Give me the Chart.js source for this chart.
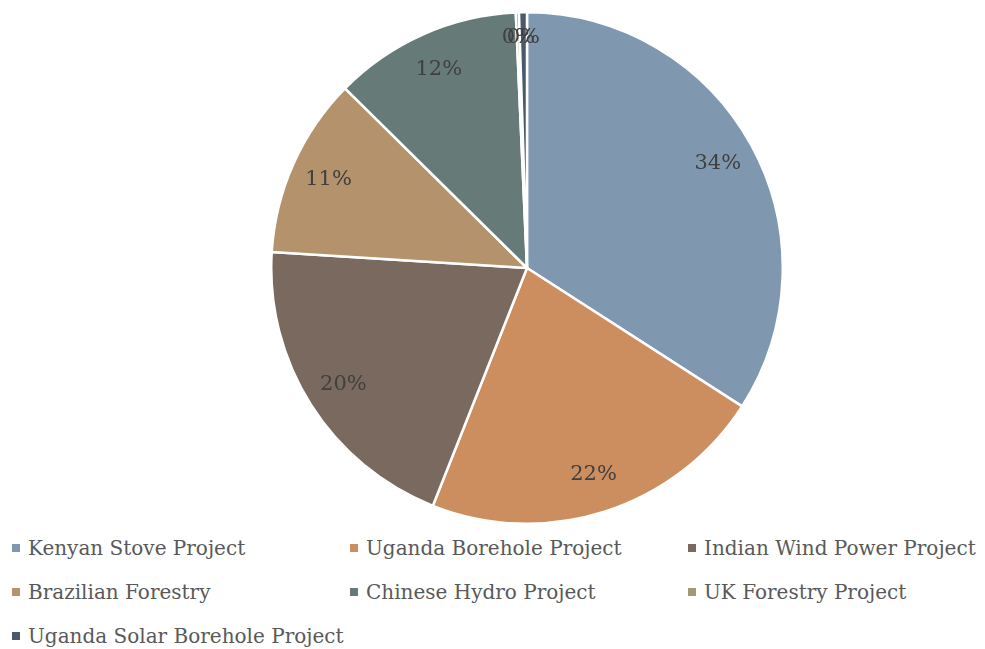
<!DOCTYPE html>
<html>
<head>
<meta charset="utf-8">
<script src="https://cdn.jsdelivr.net/npm/chart.js@4.4.0/dist/chart.umd.min.js"></script>
<style>
    body { margin: 0; background: #fff; width: 985px; height: 649px; overflow: hidden; position: relative; font-family: 'DejaVu Serif', serif; }
    #pie-box { position: absolute; left: 270px; top: 11px; width: 514px; height: 514px; }
    #legend { position: absolute; left: 12px; top: 536px; width: 980px; }
    .item { position: absolute; white-space: nowrap; font-size: 20px; color: #595959; }
    .item span.box { display: inline-block; width: 8px; height: 8px; margin-right: 8px; vertical-align: middle; position: relative; top: -2px; }
</style>
</head>
<body>
<div id="pie-box"><canvas id="chart-pie"></canvas></div>
<div id="legend"></div>
<script>
const labels = ['Kenyan Stove Project', 'Uganda Borehole Project', 'Indian Wind Power Project',
    'Brazilian Forestry', 'Chinese Hydro Project', 'UK Forestry Project', 'Uganda Solar Borehole Project'];
const shares = [34.1, 21.9, 20.0, 11.4, 11.9, 0.2, 0.5];
const colors = ['#7f98af', '#cd8e5f', '#7a695e', '#b4926c', '#667a78', '#a09a73', '#4a5a6b'];

const pctLabels = {
    id: 'pctLabels',
    afterDatasetsDraw(chart) {
        const ctx = chart.ctx;
        const meta = chart.getDatasetMeta(0);
        const total = shares.reduce((a, b) => a + b, 0);
        ctx.save();
        ctx.font = '21px "DejaVu Serif"';
        ctx.fillStyle = '#404040';
        ctx.textAlign = 'center';
        ctx.textBaseline = 'middle';
        meta.data.forEach((arc, i) => {
            const mid = (arc.startAngle + arc.endAngle) / 2;
            const r = arc.outerRadius * (shares[i] < 1 ? 0.9 : 0.85);
            const x = arc.x + Math.cos(mid) * r;
            const y = arc.y + Math.sin(mid) * r;
            ctx.fillText(Math.round(shares[i] / total * 100) + '%', x, y);
        });
        ctx.restore();
    }
};

const chart = new Chart(document.getElementById('chart-pie'), {
    type: 'pie',
    data: {
        labels: labels,
        datasets: [{
            data: shares,
            backgroundColor: colors,
            borderColor: '#ffffff',
            borderWidth: 2.5
        }]
    },
    options: {
        responsive: true,
        maintainAspectRatio: false,
        animation: false,
        layout: { padding: 0 },
        plugins: { legend: { display: false }, tooltip: { enabled: false } }
    },
    plugins: [pctLabels]
});

// legend in three columns, like the original
const legend = document.getElementById('legend');
const colX = [0, 338, 676];
labels.forEach((name, i) => {
    const div = document.createElement('div');
    div.className = 'item';
    div.style.left = colX[i % 3] + 'px';
    div.style.top = (Math.floor(i / 3) * 44) + 'px';
    div.innerHTML = `<span class="box" style="background:${colors[i]}"></span>${name}`;
    legend.appendChild(div);
});
</script>
</body>
</html>
